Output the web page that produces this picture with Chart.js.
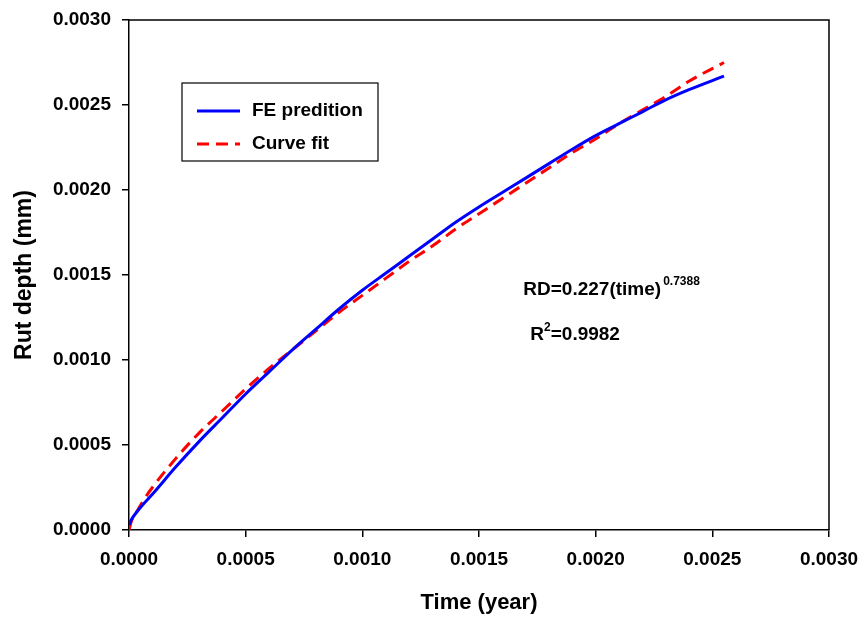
<!DOCTYPE html>
<html>
<head>
<meta charset="utf-8">
<script src="https://cdn.jsdelivr.net/npm/chart.js@4/dist/chart.umd.min.js"></script>
<style>
  html, body { margin: 0; padding: 0; background: #fff; }
  #wrap { width: 864px; height: 620px; }
</style>
</head>
<body>
<div id="wrap"><canvas id="myChart"></canvas></div>
<script>
// values
var timeYears = [0, 0.00001, 0.00003, 0.00006, 0.0001, 0.0002, 0.0003, 0.0004, 0.0005, 0.0006,
                 0.0007, 0.0008, 0.0009, 0.0010, 0.0011, 0.0012, 0.0013, 0.0014, 0.0015, 0.0016,
                 0.0017, 0.0018, 0.0019, 0.0020, 0.0021, 0.0022, 0.0023, 0.0024, 0.00255];
var fePrediction = [0.00003, 0.00006, 0.00010, 0.00015, 0.00021, 0.00037, 0.00052, 0.00066, 0.00080, 0.00093,
                    0.00106, 0.00118, 0.00130, 0.00141, 0.00151, 0.00161, 0.00171, 0.00181, 0.00190, 0.001985,
                    0.00207, 0.002155, 0.00224, 0.00232, 0.00239, 0.00246, 0.00253, 0.00259, 0.00267];
var curveFit = [0.00000, 0.00005, 0.00010, 0.00017, 0.00025, 0.00042, 0.00057, 0.00070, 0.00083, 0.00095,
                0.00106, 0.00117, 0.00128, 0.00138, 0.00148, 0.00158, 0.00167, 0.00177, 0.00186, 0.00195,
                0.00204, 0.00213, 0.00222, 0.00230, 0.00239, 0.00247, 0.00255, 0.00264, 0.00275];
var axisTicks = [0, 0.0005, 0.0010, 0.0015, 0.0020, 0.0025, 0.0030];

var FONT = "'Liberation Sans', Arial, sans-serif";

function pairs(xs, ys) {
    var out = [];
    for (var i = 0; i < xs.length; i++) out.push({x: xs[i], y: ys[i]});
    return out;
}

// box around plot, legend box and the fit equation
var extras = {
    id: 'extras',
    afterDatasetsDraw: function(chart) {
        var ctx = chart.ctx;
        var a = chart.chartArea;
        var xs = chart.scales.x, ys = chart.scales.y;
        ctx.save();
        // top and right frame lines
        ctx.strokeStyle = '#000';
        ctx.lineWidth = 1.5;
        ctx.beginPath();
        ctx.moveTo(a.left, a.top);
        ctx.lineTo(a.right, a.top);
        ctx.lineTo(a.right, a.bottom);
        ctx.stroke();

        // legend
        var lx = a.left + 53, ly = a.top + 63, lw = 196, lh = 78;
        ctx.lineWidth = 1.2;
        ctx.strokeRect(lx, ly, lw, lh);
        ctx.font = 'bold 19px ' + FONT;
        ctx.textBaseline = 'middle';
        ctx.fillStyle = '#000';
        chart.data.datasets.forEach(function(ds, i) {
            var yy = ly + 28 + i * 33;
            ctx.strokeStyle = ds.borderColor;
            ctx.lineWidth = ds.borderWidth;
            ctx.setLineDash(ds.borderDash || []);
            ctx.beginPath();
            ctx.moveTo(lx + 15, yy);
            ctx.lineTo(lx + 58, yy);
            ctx.stroke();
            ctx.setLineDash([]);
            ctx.fillText(ds.label, lx + 70, yy);
        });

        // equation
        var ex = xs.getPixelForValue(0.00169);
        var ey = ys.getPixelForValue(0.001415);
        ctx.font = 'bold 19px ' + FONT;
        ctx.textAlign = 'left';
        var main = 'RD=0.227(time)';
        ctx.fillText(main, ex, ey);
        var w = ctx.measureText(main).width;
        ctx.font = 'bold 12px ' + FONT;
        ctx.fillText('0.7388', ex + w + 2, ey - 8);

        var rx = ex + 7, ry = ey + 45;
        ctx.font = 'bold 19px ' + FONT;
        ctx.fillText('R', rx, ry);
        var rw = ctx.measureText('R').width;
        ctx.font = 'bold 12px ' + FONT;
        ctx.fillText('2', rx + rw, ry - 7);
        var tw = ctx.measureText('2').width;
        ctx.font = 'bold 19px ' + FONT;
        ctx.fillText('=0.9982', rx + rw + tw, ry);
        ctx.restore();
    }
};

new Chart(document.getElementById('myChart'), {
    type: 'line',
    data: {
        datasets: [{
            label: 'FE predition',
            data: pairs(timeYears, fePrediction),
            borderColor: '#0000ff',
            borderWidth: 3,
            pointRadius: 0,
            fill: false,
            cubicInterpolationMode: 'monotone'
        },
        {
            label: 'Curve fit',
            data: pairs(timeYears, curveFit),
            borderColor: '#ff0000',
            borderWidth: 3,
            borderDash: [12, 7],
            pointRadius: 0,
            fill: false,
            cubicInterpolationMode: 'monotone'
        }]
    },
    options: {
        responsive: true,
        maintainAspectRatio: false,
        animation: false,
        layout: { padding: { top: 20, right: 35, left: 0, bottom: 0 } },
        plugins: { legend: { display: false }, tooltip: { enabled: false } },
        scales: {
            x: {
                type: 'linear',
                min: 0, max: 0.003,
                afterBuildTicks: function(s) { s.ticks = axisTicks.map(function(v) { return {value: v}; }); },
                afterFit: function(s) { s.height = 90; s.paddingLeft = 0; s.paddingRight = 0; },
                grid: { drawOnChartArea: false, drawTicks: true, tickLength: 7, color: '#000', lineWidth: 1.5 },
                border: { color: '#000', width: 1.5 },
                ticks: {
                    color: '#000', padding: 11, maxRotation: 0,
                    font: { family: FONT, size: 19, weight: 'bold' },
                    callback: function(v) { return v.toFixed(4); }
                },
                title: {
                    display: true, text: 'Time (year)', color: '#000',
                    font: { family: FONT, size: 22, weight: 'bold' },
                    padding: { top: 0, bottom: 4 }
                }
            },
            y: {
                type: 'linear',
                min: 0, max: 0.003,
                afterBuildTicks: function(s) { s.ticks = axisTicks.map(function(v) { return {value: v}; }); },
                afterFit: function(s) { s.width = 129; s.paddingTop = 0; s.paddingBottom = 0; },
                grid: { drawOnChartArea: false, drawTicks: true, tickLength: 7, color: '#000', lineWidth: 1.5 },
                border: { color: '#000', width: 1.5 },
                ticks: {
                    color: '#000', padding: 11,
                    font: { family: FONT, size: 19, weight: 'bold' },
                    callback: function(v) { return v.toFixed(4); }
                },
                title: {
                    display: true, text: 'Rut depth (mm)', color: '#000',
                    font: { family: FONT, size: 23, weight: 'bold' },
                    padding: { top: 11, bottom: 0 }
                }
            }
        }
    },
    plugins: [extras]
});
</script>
</body>
</html>
